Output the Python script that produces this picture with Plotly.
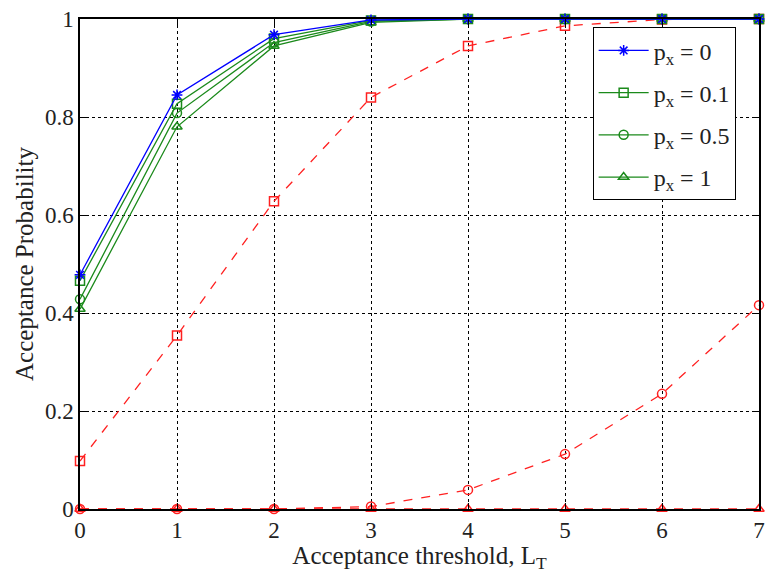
import plotly.graph_objects as go

# Acceptance threshold L_T
thresholds = [0, 1, 2, 3, 4, 5, 6, 7]

# Solid curves (legend entries)
p_px0 = [0.478, 0.845, 0.968, 0.998, 1.0, 1.0, 1.0, 1.0]
p_px01 = [0.466, 0.827, 0.960, 0.997, 1.0, 1.0, 1.0, 1.0]
p_px05 = [0.428, 0.808, 0.952, 0.995, 1.0, 1.0, 1.0, 1.0]
p_px1 = [0.408, 0.780, 0.945, 0.993, 1.0, 1.0, 1.0, 1.0]

# Dashed red curves
red_square = [0.098, 0.354, 0.628, 0.840, 0.945, 0.986, 0.999, 1.0]
red_circle = [0.0, 0.0, 0.0, 0.005, 0.039, 0.112, 0.235, 0.416]
red_triangle = [0.0, 0.0, 0.0, 0.0, 0.0, 0.0, 0.0, 0.0]

legend_labels = ["p<sub>x</sub> = 0", "p<sub>x</sub> = 0.1",
                 "p<sub>x</sub> = 0.5", "p<sub>x</sub> = 1"]

x_ticks = [0, 1, 2, 3, 4, 5, 6, 7]
y_ticks = [0, 0.2, 0.4, 0.6, 0.8, 1]
y_tick_text = ["0", "0.2", "0.4", "0.6", "0.8", "1"]

BLUE = "#0000ff"
GREEN = "#1b8a1b"
RED = "#ff2020"

fig = go.Figure()

# red dashed curves (not in legend), drawn beneath
for ys, sym in [(red_triangle, "triangle-up-open"),
                (red_circle, "circle-open"),
                (red_square, "square-open")]:
    fig.add_trace(go.Scatter(
        x=thresholds, y=ys, mode="lines+markers", showlegend=False,
        line=dict(color=RED, width=1.3, dash="dash"),
        marker=dict(symbol=sym, size=9, color=RED, line=dict(color=RED, width=1.5)),
        cliponaxis=False,
    ))

# solid curves; green ones first so the blue curve sits on top,
# legend order fixed by legendrank
for rank, ys, sym, col, name in [
        (4, p_px1, "triangle-up-open", GREEN, legend_labels[3]),
        (3, p_px05, "circle-open", GREEN, legend_labels[2]),
        (2, p_px01, "square-open", GREEN, legend_labels[1]),
        (1, p_px0, "asterisk-open", BLUE, legend_labels[0])]:
    fig.add_trace(go.Scatter(
        x=thresholds, y=ys, mode="lines+markers", name=name,
        legendgroup=f"g{rank}", legendrank=rank,
        line=dict(color=col, width=1.3),
        marker=dict(symbol=sym, size=9, color=col, line=dict(color=col, width=1.5)),
        cliponaxis=False,
    ))

SERIF = "Liberation Serif, Times New Roman, serif"
tick_font = dict(family=SERIF, size=23, color="#222")
title_font = dict(family=SERIF, size=25, color="#222")

fig.update_layout(
    width=769, height=573,
    margin=dict(l=80, r=4, t=19, b=64),
    paper_bgcolor="white", plot_bgcolor="white",
    font=tick_font,
    legend=dict(
        x=0.755, y=0.983, xanchor="left", yanchor="top",
        bgcolor="white", bordercolor="black", borderwidth=1,
        font=dict(family=SERIF, size=24, color="#222"),
        traceorder="grouped", itemwidth=50, tracegroupgap=8,
    ),
    xaxis=dict(
        range=[0, 7], tickvals=x_ticks, ticks="inside", ticklen=6,
        tickcolor="black", showline=True, linecolor="black", linewidth=1.5,
        mirror="ticks", showgrid=True, gridcolor="black", griddash="dot",
        gridwidth=1.2, zeroline=False, tickfont=tick_font,
        title=dict(text="Acceptance threshold, L<sub>T</sub>", font=title_font, standoff=1),
    ),
    yaxis=dict(
        range=[0, 1], tickvals=y_ticks, ticktext=y_tick_text, ticks="inside",
        ticklen=6, tickcolor="black", showline=True, linecolor="black",
        linewidth=1.5, mirror="ticks", showgrid=True, gridcolor="black",
        griddash="dot", gridwidth=1.2, zeroline=False, tickfont=tick_font,
        title=dict(text="Acceptance Probability", font=title_font, standoff=4),
    ),
)

fig.write_html("out.html")
